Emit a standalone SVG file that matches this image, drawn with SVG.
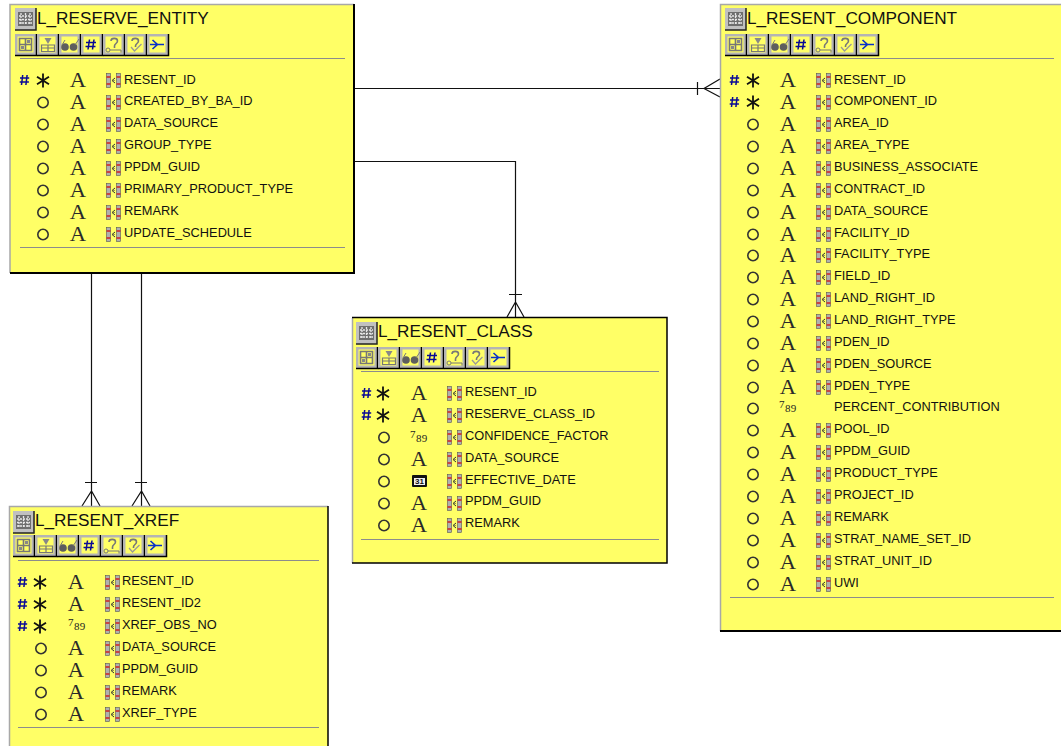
<svg xmlns="http://www.w3.org/2000/svg" xmlns:xlink="http://www.w3.org/1999/xlink" width="1061" height="746" viewBox="0 0 1061 746">
<style>
.box{fill:#ffff66}
.lt{stroke:#a8a8a8;stroke-width:1.5;fill:none}
.dk{stroke:#000;stroke-width:2;fill:none}
.rule{stroke:#8c8c8c;stroke-width:1;fill:none}
.title{font:17.2px "Liberation Sans",Arial,sans-serif;fill:#111}
.f{font:12.8px "Liberation Sans",Arial,sans-serif;fill:#111}
.a{font:20px "Liberation Serif","Times New Roman",serif;fill:#2a2a2a;text-anchor:middle;transform-box:fill-box;transform-origin:center;transform:scaleX(1.13)}
.n{font:11px "Liberation Serif","Times New Roman",serif;fill:#222;letter-spacing:.4px}
.c{stroke:#111;stroke-width:1.2;fill:none}
</style>
<defs>
<g id="btn"><rect x="0" y="0" width="21" height="21" fill="#b4b4b4"/><rect x="2.500" y="2.500" width="16" height="16" fill="#ffff66"/><path d="M0 21.500H21.500V0" fill="none" stroke="#000" stroke-width="1.500"/></g>
<g id="tbl"><rect x="0" y="0" width="21" height="22" fill="#c0c0c0"/><path d="M21 0V22H0" fill="none" stroke="#222" stroke-width="1.500"/><rect x="3" y="4" width="15" height="14" fill="#6e6e6e"/><path d="M6 5v12M10.500 5v12M15 5v12M4 8h13M4 11.500h13M4 15h13" stroke="#e8e8e8" stroke-width="1.300" stroke-dasharray="2 1"/></g>
<g id="toolbar">
<use xlink:href="#btn" x="0"/><path d="M4.500 4.500h12v12h-12zM4.500 10.500h12M10.500 4.500v12" fill="none" stroke="#777" stroke-width="1.600"/><path d="M12 6h3v3h-3zM6 12h3v3H6z" fill="#888"/>
<use xlink:href="#btn" x="22"/><path d="M26.500 11h13v6.500h-13zM33 11v6.500M26.500 14h13" fill="none" stroke="#777" stroke-width="1.200"/><path d="M29.500 4h7l-3.500 6z" fill="#888"/>
<use xlink:href="#btn" x="44"/><circle cx="50" cy="13" r="3.800" fill="#5e5e5e"/><circle cx="58.500" cy="13" r="3.800" fill="#5e5e5e"/><path d="M60 11l4-6M47 11l3-5" stroke="#777" fill="none"/>
<use xlink:href="#btn" x="66"/><path d="M74.500 5.500l-1.500 10M79 5.500l-1.500 10M71 8.500h10M70.500 12.500h10" stroke="#0a0a96" stroke-width="1.500" fill="none"/>
<use xlink:href="#btn" x="88"/><path d="M96 7c0-3.500 6.500-3.500 6.500 0 0 2.500-3 2.500-3 5M99.500 12v2" fill="none" stroke="#777" stroke-width="1.600"/><circle cx="93" cy="16" r="2" fill="none" stroke="#777"/><path d="M95 16h11v2.500" fill="none" stroke="#777"/>
<use xlink:href="#btn" x="110"/><path d="M117 7c0-3.500 6.500-3.500 6.500 0 0 2.500-3 2.500-3 5M120.500 12v1" fill="none" stroke="#777" stroke-width="1.600"/><path d="M116 13l3.500 4 7-7" fill="none" stroke="#999" stroke-width="1.300"/>
<use xlink:href="#btn" x="132"/><path d="M135 10.500h14M137.500 6l5 4.500-5 4.500" fill="none" stroke="#0a30c8" stroke-width="1.600"/>
</g>
<g id="hash"><path transform="translate(.5 1)" d="M-1.800-5l-1.200 10M2.600-5l-1.200 10M-4.500-2h9.200M-4.800 2h9.200" stroke="#0a0a96" stroke-width="1.500" fill="none"/></g>
<g id="star"><path transform="translate(0 .5)" d="M0-7V7M-6-3.800L6 3.800M-6 3.800L6-3.800" stroke="#111" stroke-width="1.800" fill="none"/></g>
<circle id="o" cy=".5" r="5.200" fill="none" stroke="#333" stroke-width="1.600"/>
<g id="key"><rect x="-6.500" y="-6.500" width="4" height="14" fill="#b0b0b0" stroke="#555" stroke-width=".6"/><rect x="3.500" y="-6.500" width="4" height="14" fill="#b0b0b0" stroke="#555" stroke-width=".6"/><path d="M-6.500-3h4M3.500-3h4M-6.500 4h4M3.500 4h4" stroke="#d02020" stroke-width="1.500"/><path d="M2-2L-1 .5l3 2.500M1-.0V1" fill="none" stroke="#333"/></g>
<g id="date"><rect x="-7.500" y="-6" width="15" height="12" rx="1" fill="#111"/><rect x="-5.500" y="-3" width="11" height="7" fill="#eee"/></g>
</defs>

<g id="connectors" class="c">
<path d="M355 88.500H720M697.500 82V95M720 79L704 88.500L720 97"/>
<path d="M355 161.500H515.500V317M509 294.500H522M507 317L515.500 302L524 317"/>
<path d="M91.500 274V506M85 482.500H97M82 506L91.500 491L100 506"/>
<path d="M141.500 274V506M135 482.500H147M132 506L141.500 491L150 506"/>
</g>

<g id="L_RESERVE_ENTITY">
<rect class="box" x="10" y="4" width="344" height="269"/>
<path class="lt" d="M10 273V4.500H354"/><path class="dk" d="M354 4V273H10"/>
<use xlink:href="#tbl" x="15" y="8"/>
<text class="title" x="37" y="24">L_RESERVE_ENTITY</text>
<use xlink:href="#toolbar" x="15" y="34"/>
<path class="rule" d="M20 58.500H345M20 247.500H345"/>
<use xlink:href="#hash" x="24" y="79"/><use xlink:href="#star" x="43" y="80"/><text class="a" x="78" y="87">A</text><use xlink:href="#key" x="113" y="80"/><text class="f" x="124" y="84">RESENT_ID</text>
<use xlink:href="#o" x="43" y="102"/><text class="a" x="78" y="109">A</text><use xlink:href="#key" x="113" y="102"/><text class="f" x="124" y="105">CREATED_BY_BA_ID</text>
<use xlink:href="#o" x="43" y="124"/><text class="a" x="78" y="131">A</text><use xlink:href="#key" x="113" y="124"/><text class="f" x="124" y="127">DATA_SOURCE</text>
<use xlink:href="#o" x="43" y="146"/><text class="a" x="78" y="153">A</text><use xlink:href="#key" x="113" y="146"/><text class="f" x="124" y="149">GROUP_TYPE</text>
<use xlink:href="#o" x="43" y="168"/><text class="a" x="78" y="175">A</text><use xlink:href="#key" x="113" y="168"/><text class="f" x="124" y="171">PPDM_GUID</text>
<use xlink:href="#o" x="43" y="190"/><text class="a" x="78" y="197">A</text><use xlink:href="#key" x="113" y="190"/><text class="f" x="124" y="193">PRIMARY_PRODUCT_TYPE</text>
<use xlink:href="#o" x="43" y="212"/><text class="a" x="78" y="219">A</text><use xlink:href="#key" x="113" y="212"/><text class="f" x="124" y="215">REMARK</text>
<use xlink:href="#o" x="43" y="234"/><text class="a" x="78" y="241">A</text><use xlink:href="#key" x="113" y="234"/><text class="f" x="124" y="237">UPDATE_SCHEDULE</text>
</g>

<g id="L_RESENT_CLASS">
<rect class="box" x="352" y="317" width="315" height="246"/>
<path class="lt" d="M352.500 563V318"/><path class="dk" d="M352 317.500H667V563H352" style="stroke-width:1.500px"/>
<use xlink:href="#tbl" x="356" y="322"/>
<text class="title" x="378" y="337">L_RESENT_CLASS</text>
<use xlink:href="#toolbar" x="356" y="347"/>
<path class="rule" d="M361 371.500H659M361 539.500H659"/>
<use xlink:href="#hash" x="366" y="392"/><use xlink:href="#star" x="383" y="393"/><text class="a" x="419" y="400">A</text><use xlink:href="#key" x="454" y="393"/><text class="f" x="465" y="396">RESENT_ID</text>
<use xlink:href="#hash" x="366" y="414"/><use xlink:href="#star" x="383" y="415"/><text class="a" x="419" y="422">A</text><use xlink:href="#key" x="454" y="415"/><text class="f" x="465" y="418">RESERVE_CLASS_ID</text>
<use xlink:href="#o" x="384" y="437"/><text class="n" x="410" y="438">7<tspan dy="4">89</tspan></text><use xlink:href="#key" x="454" y="437"/><text class="f" x="465" y="440">CONFIDENCE_FACTOR</text>
<use xlink:href="#o" x="384" y="459"/><text class="a" x="419" y="466">A</text><use xlink:href="#key" x="454" y="459"/><text class="f" x="465" y="462">DATA_SOURCE</text>
<use xlink:href="#o" x="384" y="481"/><use xlink:href="#date" x="419.500" y="481"/><text x="419.500" y="484" font-family="Liberation Sans,sans-serif" font-size="8" font-weight="bold" text-anchor="middle" fill="#111">31</text><use xlink:href="#key" x="454" y="481"/><text class="f" x="465" y="484">EFFECTIVE_DATE</text>
<use xlink:href="#o" x="384" y="503"/><text class="a" x="419" y="510">A</text><use xlink:href="#key" x="454" y="503"/><text class="f" x="465" y="505">PPDM_GUID</text>
<use xlink:href="#o" x="384" y="525"/><text class="a" x="419" y="532">A</text><use xlink:href="#key" x="454" y="525"/><text class="f" x="465" y="527">REMARK</text>
</g>

<g id="L_RESENT_XREF">
<rect class="box" x="9" y="506" width="319" height="240"/>
<path class="lt" d="M9.500 746V506.500H328"/><path class="dk" d="M328 506V746" style="stroke-width:1.500px"/>
<use xlink:href="#tbl" x="13" y="511"/>
<text class="title" x="35" y="526">L_RESENT_XREF</text>
<use xlink:href="#toolbar" x="13" y="535"/>
<path class="rule" d="M18 560.500H319M18 727.500H319"/>
<use xlink:href="#hash" x="22" y="581"/><use xlink:href="#star" x="40" y="582"/><text class="a" x="76" y="589">A</text><use xlink:href="#key" x="112" y="582"/><text class="f" x="122" y="585">RESENT_ID</text>
<use xlink:href="#hash" x="22" y="603"/><use xlink:href="#star" x="40" y="604"/><text class="a" x="76" y="611">A</text><use xlink:href="#key" x="112" y="604"/><text class="f" x="122" y="607">RESENT_ID2</text>
<use xlink:href="#hash" x="22" y="625"/><use xlink:href="#star" x="40" y="626"/><text class="n" x="68" y="626">7<tspan dy="4">89</tspan></text><use xlink:href="#key" x="112" y="626"/><text class="f" x="122" y="629">XREF_OBS_NO</text>
<use xlink:href="#o" x="41" y="648"/><text class="a" x="76" y="655">A</text><use xlink:href="#key" x="112" y="648"/><text class="f" x="122" y="651">DATA_SOURCE</text>
<use xlink:href="#o" x="41" y="670"/><text class="a" x="76" y="677">A</text><use xlink:href="#key" x="112" y="670"/><text class="f" x="122" y="673">PPDM_GUID</text>
<use xlink:href="#o" x="41" y="692"/><text class="a" x="76" y="699">A</text><use xlink:href="#key" x="112" y="692"/><text class="f" x="122" y="695">REMARK</text>
<use xlink:href="#o" x="41" y="714"/><text class="a" x="76" y="721">A</text><use xlink:href="#key" x="112" y="714"/><text class="f" x="122" y="717">XREF_TYPE</text>
</g>

<g id="L_RESENT_COMPONENT">
<rect class="box" x="720" y="4" width="341" height="627"/>
<path class="lt" d="M720.500 631V4.500H1061"/><path class="dk" d="M720 631H1061"/>
<use xlink:href="#tbl" x="725" y="8"/>
<text class="title" x="747" y="24">L_RESENT_COMPONENT</text>
<use xlink:href="#toolbar" x="725" y="34"/>
<path class="rule" d="M730 58.500H1054M730 597.500H1054"/>
<use xlink:href="#hash" x="734" y="79"/><use xlink:href="#star" x="753" y="80"/><text class="a" x="788" y="87">A</text><use xlink:href="#key" x="823" y="80"/><text class="f" x="834" y="84">RESENT_ID</text>
<use xlink:href="#hash" x="734" y="101"/><use xlink:href="#star" x="753" y="102"/><text class="a" x="788" y="109">A</text><use xlink:href="#key" x="823" y="102"/><text class="f" x="834" y="105">COMPONENT_ID</text>
<use xlink:href="#o" x="753" y="124"/><text class="a" x="788" y="131">A</text><use xlink:href="#key" x="823" y="124"/><text class="f" x="834" y="127">AREA_ID</text>
<use xlink:href="#o" x="753" y="146"/><text class="a" x="788" y="153">A</text><use xlink:href="#key" x="823" y="146"/><text class="f" x="834" y="149">AREA_TYPE</text>
<use xlink:href="#o" x="753" y="168"/><text class="a" x="788" y="175">A</text><use xlink:href="#key" x="823" y="168"/><text class="f" x="834" y="171">BUSINESS_ASSOCIATE</text>
<use xlink:href="#o" x="753" y="190"/><text class="a" x="788" y="197">A</text><use xlink:href="#key" x="823" y="190"/><text class="f" x="834" y="193">CONTRACT_ID</text>
<use xlink:href="#o" x="753" y="212"/><text class="a" x="788" y="219">A</text><use xlink:href="#key" x="823" y="212"/><text class="f" x="834" y="215">DATA_SOURCE</text>
<use xlink:href="#o" x="753" y="234"/><text class="a" x="788" y="241">A</text><use xlink:href="#key" x="823" y="234"/><text class="f" x="834" y="237">FACILITY_ID</text>
<use xlink:href="#o" x="753" y="255"/><text class="a" x="788" y="262">A</text><use xlink:href="#key" x="823" y="255"/><text class="f" x="834" y="258">FACILITY_TYPE</text>
<use xlink:href="#o" x="753" y="277"/><text class="a" x="788" y="284">A</text><use xlink:href="#key" x="823" y="277"/><text class="f" x="834" y="280">FIELD_ID</text>
<use xlink:href="#o" x="753" y="299"/><text class="a" x="788" y="306">A</text><use xlink:href="#key" x="823" y="299"/><text class="f" x="834" y="302">LAND_RIGHT_ID</text>
<use xlink:href="#o" x="753" y="321"/><text class="a" x="788" y="328">A</text><use xlink:href="#key" x="823" y="321"/><text class="f" x="834" y="324">LAND_RIGHT_TYPE</text>
<use xlink:href="#o" x="753" y="343"/><text class="a" x="788" y="350">A</text><use xlink:href="#key" x="823" y="343"/><text class="f" x="834" y="346">PDEN_ID</text>
<use xlink:href="#o" x="753" y="365"/><text class="a" x="788" y="372">A</text><use xlink:href="#key" x="823" y="365"/><text class="f" x="834" y="368">PDEN_SOURCE</text>
<use xlink:href="#o" x="753" y="387"/><text class="a" x="788" y="394">A</text><use xlink:href="#key" x="823" y="387"/><text class="f" x="834" y="390">PDEN_TYPE</text>
<use xlink:href="#o" x="753" y="408"/><text class="n" x="779" y="408">7<tspan dy="4">89</tspan></text><text class="f" x="834" y="411">PERCENT_CONTRIBUTION</text>
<use xlink:href="#o" x="753" y="430"/><text class="a" x="788" y="437">A</text><use xlink:href="#key" x="823" y="430"/><text class="f" x="834" y="433">POOL_ID</text>
<use xlink:href="#o" x="753" y="452"/><text class="a" x="788" y="459">A</text><use xlink:href="#key" x="823" y="452"/><text class="f" x="834" y="455">PPDM_GUID</text>
<use xlink:href="#o" x="753" y="474"/><text class="a" x="788" y="481">A</text><use xlink:href="#key" x="823" y="474"/><text class="f" x="834" y="477">PRODUCT_TYPE</text>
<use xlink:href="#o" x="753" y="496"/><text class="a" x="788" y="503">A</text><use xlink:href="#key" x="823" y="496"/><text class="f" x="834" y="499">PROJECT_ID</text>
<use xlink:href="#o" x="753" y="518"/><text class="a" x="788" y="525">A</text><use xlink:href="#key" x="823" y="518"/><text class="f" x="834" y="521">REMARK</text>
<use xlink:href="#o" x="753" y="540"/><text class="a" x="788" y="547">A</text><use xlink:href="#key" x="823" y="540"/><text class="f" x="834" y="543">STRAT_NAME_SET_ID</text>
<use xlink:href="#o" x="753" y="562"/><text class="a" x="788" y="569">A</text><use xlink:href="#key" x="823" y="562"/><text class="f" x="834" y="565">STRAT_UNIT_ID</text>
<use xlink:href="#o" x="753" y="584"/><text class="a" x="788" y="591">A</text><use xlink:href="#key" x="823" y="584"/><text class="f" x="834" y="587">UWI</text>
</g>
</svg>
